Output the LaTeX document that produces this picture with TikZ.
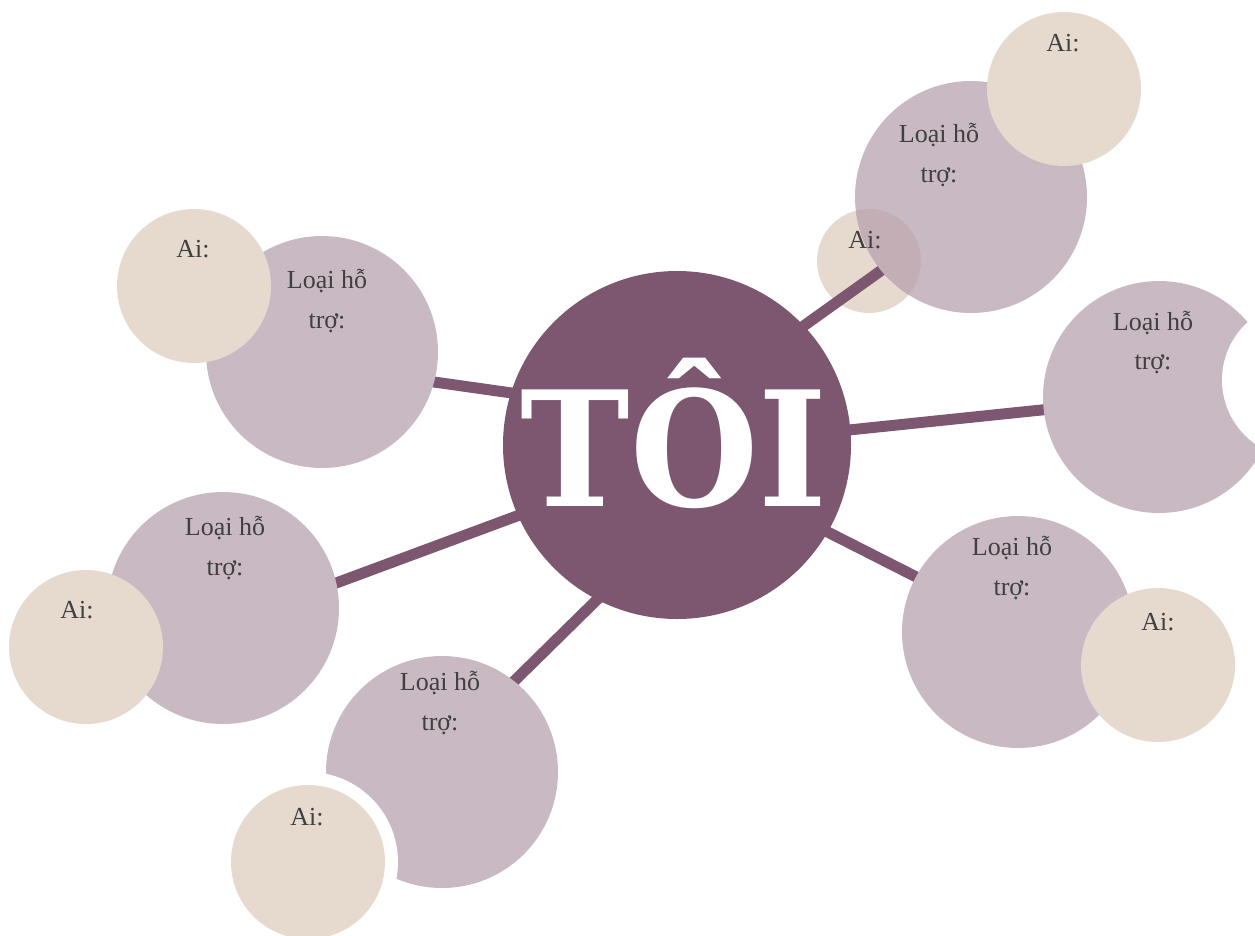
\documentclass[tikz,border=0pt]{standalone}
\usepackage{fontspec}
\setmainfont{Liberation Serif}
\newfontfamily\titlefont{DejaVu Serif}
\definecolor{hub}{HTML}{7D5770}
\definecolor{lilac}{HTML}{C9B9C3}
\definecolor{beige}{HTML}{E6D9CE}
\definecolor{overlap}{HTML}{C3AEB6}
\definecolor{txt}{HTML}{404040}
\begin{document}
\begin{tikzpicture}[x=1pt,y=-1pt,
  bub/.style={circle, fill=lilac, inner sep=0pt, minimum size=232pt},
  aibub/.style={circle, fill=beige, inner sep=0pt, minimum size=154pt},
  lbl/.style={anchor=base, text=txt, font=\fontsize{26}{40}\selectfont, inner sep=0pt},
  link/.style={line width=11pt, draw=hub}]
\useasboundingbox (0,0) rectangle (1255,935);
\clip (0,0) rectangle (1255,935);

% small beige circle (under the connector)
\node[aibub, minimum size=104pt] (aiS) at (869,261) {};

% connector end points
\coordinate (s1) at (540,397);  \coordinate (e1) at (420,380);
\coordinate (s2) at (560,500);  \coordinate (e2) at (320,589);
\coordinate (s3) at (615,582);  \coordinate (e3) at (500,695);
\coordinate (s4) at (800,518);  \coordinate (e4) at (940,589);
\coordinate (s5) at (820,433);  \coordinate (e5) at (1070,407);
\coordinate (s6) at (770,350);  \coordinate (e6) at (900,257);
\foreach \i in {1,...,6} {\draw[link] (s\i) -- (e\i);}

% support bubbles
\node[bub] (pTL) at (322,352) {};
\node[bub] (pTR) at (971,197) {};
\node[bub] (pR)  at (1159,397) {};
\node[bub] (pBR) at (1018,632) {};
\node[bub] (pB)  at (442,772) {};
\node[bub] (pL)  at (223,608) {};

% overlap of small beige circle with top-right bubble
\begin{scope}
  \clip (pTR.center) circle (116);
  \fill[overlap] (aiS.center) circle (52);
\end{scope}

% white cut-outs
\node[circle, fill=white, inner sep=0pt, minimum size=156pt] (cutR) at (1300,380) {};
\node[circle, fill=white, inner sep=0pt, minimum size=180pt] (cutB) at (308,862) {};

% "Ai" bubbles
\node[aibub] (aTL) at (194,286) {};
\node[aibub] (aTR) at (1064,89) {};
\node[aibub] (aBR) at (1158,665) {};
\node[aibub] (aB)  at (308,862) {};
\node[aibub] (aL)  at (86,647) {};

% centre
\node[circle, fill=hub, inner sep=0pt, minimum size=348pt] (me) at (677,445) {};
\node[anchor=base, text=white, inner sep=0pt, xscale=0.92,
      font=\titlefont\bfseries\fontsize{160}{160}\selectfont] (meT) at (674,506) {TÔI};

% labels
\node[lbl] (tTL1) at (327,288) {Loại hỗ};
\node[lbl] (tTL2) at (327,328) {trợ:};
\node[lbl] (tTLa) at (193,257) {Ai:};

\node[lbl] (tTR1) at (939,142) {Loại hỗ};
\node[lbl] (tTR2) at (939,182) {trợ:};
\node[lbl] (tTRa) at (1063,51) {Ai:};
\node[lbl] (tTRs) at (865,248) {Ai:};

\node[lbl] (tR1) at (1153,330) {Loại hỗ};
\node[lbl] (tR2) at (1153,369) {trợ:};

\node[lbl] (tBR1) at (1012,555) {Loại hỗ};
\node[lbl] (tBR2) at (1012,595) {trợ:};
\node[lbl] (tBRa) at (1158,630) {Ai:};

\node[lbl] (tB1) at (440,690) {Loại hỗ};
\node[lbl] (tB2) at (440,730) {trợ:};
\node[lbl] (tBa) at (307,825) {Ai:};

\node[lbl] (tL1) at (225,535) {Loại hỗ};
\node[lbl] (tL2) at (225,575) {trợ:};
\node[lbl] (tLa) at (77,618) {Ai:};
\end{tikzpicture}
\end{document}
